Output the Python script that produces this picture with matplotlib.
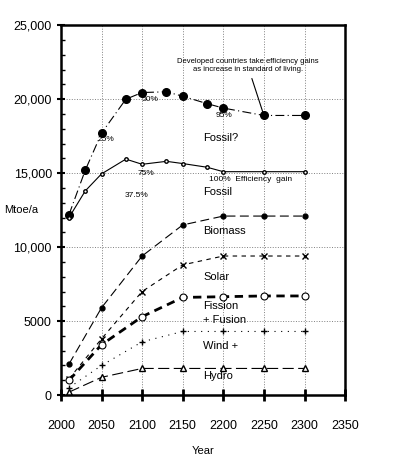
import matplotlib
matplotlib.use("Agg")
import matplotlib.pyplot as plt

plt.rcParams['font.family'] = ['Liberation Sans', 'DejaVu Sans']

yrs_top = [2010, 2030, 2050, 2080, 2100, 2130, 2150, 2180, 2200, 2250, 2300]
total_top = [12200, 15200, 17700, 20000, 20450, 20500, 20200, 19700, 19400, 18900, 18900]
total_eff = [12000, 13800, 14950, 15950, 15600, 15800, 15650, 15400, 15100, 15100, 15100]
yrs = [2010, 2050, 2100, 2150, 2200, 2250, 2300]
biomass = [2100, 5900, 9400, 11500, 12100, 12100, 12100]
solar = [1100, 3800, 7000, 8800, 9400, 9400, 9400]
fission = [1000, 3400, 5300, 6600, 6650, 6700, 6700]
wind = [500, 2000, 3600, 4300, 4300, 4300, 4300]
hydro = [200, 1200, 1800, 1800, 1800, 1800, 1800]

fig = plt.figure(figsize=(4.06, 4.67), dpi=100)
ax = fig.add_axes([0.15, 0.154, 0.70, 0.792])
k = 'black'
ax.plot(yrs_top, total_top, color=k, lw=0.8, ls=(0, (8, 3, 1, 3)), marker='o', ms=5.5)
ax.plot(yrs_top, total_eff, color=k, lw=0.8, ls='-', marker='o', ms=2.5, mfc='white')
ax.plot(yrs, biomass, color=k, lw=0.8, ls=(0, (8, 4)), marker='o', ms=3.5)
ax.plot(yrs, solar, color=k, lw=0.8, ls=(0, (4, 4)), marker='x', ms=4)
ax.plot(yrs, fission, color=k, lw=2, ls=(0, (3, 2)), marker='o', ms=5, mfc='white', mew=0.8)
ax.plot(yrs, wind, color=k, lw=0.8, ls=(0, (1, 5)), marker='+', ms=5)
ax.plot(yrs, hydro, color=k, lw=0.8, ls=(0, (10, 4)), marker='^', ms=4, mfc='white')

ax.set_xlim(2000, 2350)
ax.set_ylim(0, 25000)
ax.set_xticks(range(2000, 2351, 50))
ax.set_yticks(range(0, 25001, 5000))
ax.set_yticklabels(['0', '5000', '10,000', '15,000', '20,000', '25,000'])
ax.set_yticks(range(0, 25001, 1000), minor=True)
ax.tick_params(axis='x', pad=14, direction='inout', length=8, width=2, labelsize=9)
ax.tick_params(axis='y', direction='inout', length=6, width=1.5, labelsize=9)
ax.tick_params(axis='y', which='minor', direction='in', length=3, width=1)
ax.grid(True, ls=':', color='gray', lw=0.7)
for s in ax.spines.values():
    s.set_linewidth(1.8)
ax.set_xlabel('Year', fontsize=8, labelpad=10)
ax.text(-0.2, 0.5, 'Mtoe/a', transform=ax.transAxes, fontsize=8, va='center')

fs = 8
ax.text(2175, 17200, 'Fossil?', fontsize=fs)
ax.text(2175, 13550, 'Fossil', fontsize=fs)
ax.text(2175, 10900, 'Biomass', fontsize=fs)
ax.text(2175, 7800, 'Solar', fontsize=fs)
ax.text(2175, 5850, 'Fission', fontsize=fs)
ax.text(2175, 4900, '+ Fusion', fontsize=fs)
ax.text(2175, 3100, 'Wind +', fontsize=fs)
ax.text(2175, 1100, 'Hydro', fontsize=fs)
ax.text(2078, 13400, '37.5%', fontsize=6)
ax.text(2095, 14900, '75%', fontsize=6)
ax.text(2045, 17200, '25%', fontsize=6)
ax.text(2100, 19900, '50%', fontsize=6)
ax.text(2190, 18800, '95%', fontsize=6)
ax.text(2182, 14500, '100%  Efficiency  gain', fontsize=6)
ax.annotate('Developed countries take efficiency gains\nas increase in standard of living.',
            xy=(2250, 18900), xytext=(2230, 21900), fontsize=5.5, ha='center',
            arrowprops=dict(arrowstyle='-', color=k, lw=0.8))
fig.savefig('out.png', dpi=100)
